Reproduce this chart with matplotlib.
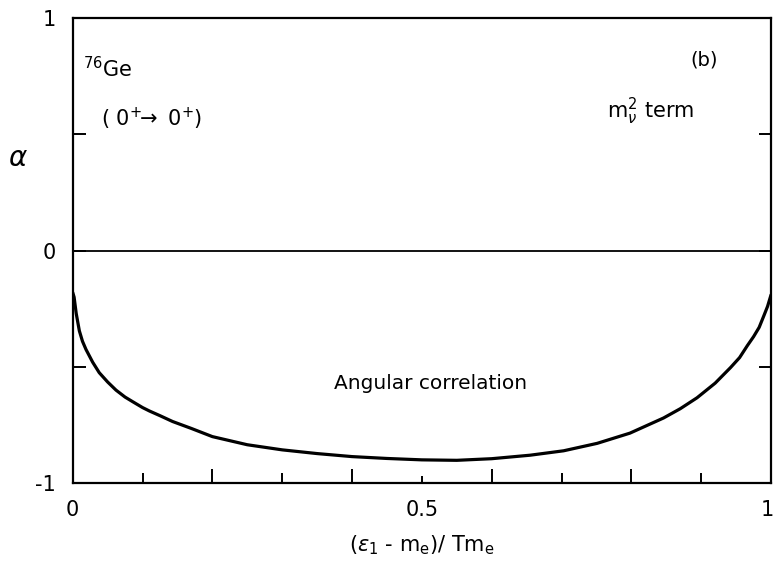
import matplotlib
matplotlib.use("Agg")
import matplotlib.pyplot as plt
import matplotlib.transforms as mtransforms
from matplotlib.ticker import FixedLocator

# Angular correlation coefficient alpha versus reduced electron energy
energy = [0.0, 0.002, 0.005, 0.0095, 0.014, 0.019, 0.0286, 0.038, 0.05,
          0.062, 0.075, 0.086, 0.1, 0.11, 0.125, 0.143, 0.17, 0.2, 0.25,
          0.3, 0.35, 0.4, 0.45, 0.5, 0.55, 0.6, 0.655, 0.703, 0.751, 0.798,
          0.846, 0.87, 0.894, 0.92, 0.942, 0.955, 0.966, 0.975, 0.983, 0.99,
          0.995, 1.0]
alpha = [-0.18, -0.20, -0.27, -0.345, -0.39, -0.425, -0.48, -0.525, -0.565,
         -0.60, -0.63, -0.65, -0.675, -0.69, -0.71, -0.735, -0.765, -0.80,
         -0.835, -0.857, -0.873, -0.886, -0.894, -0.90, -0.902, -0.895,
         -0.88, -0.861, -0.829, -0.785, -0.72, -0.68, -0.633, -0.57, -0.503,
         -0.46, -0.409, -0.37, -0.33, -0.278, -0.24, -0.19]

xtick_major = [0.0, 0.5, 1.0]
xtick_major_labels = ["0", "0.5", "1"]
xtick_short = [0.1, 0.3, 0.7, 0.9]
xtick_long = [0.2, 0.4, 0.6, 0.8]
ytick_values = [-1.0, -0.5, 0.0, 0.5, 1.0]
ytick_labels = ["-1", "", "0", "", "1"]

plt.rcParams["font.family"] = ["DejaVu Sans"]
plt.rcParams["mathtext.fontset"] = "dejavusans"

fig = plt.figure(figsize=(7.76, 5.87), dpi=100)
ax = fig.add_axes([0.0937, 0.177, 0.8999, 0.792])

ax.plot(energy, alpha, color="black", lw=2.3, solid_capstyle="round",
        solid_joinstyle="round")
ax.axhline(0.0, color="black", lw=1.3)

ax.set_xlim(0, 1)
ax.set_ylim(-1, 1)

for side in ax.spines.values():
    side.set_linewidth(1.6)

ax.set_xticks(xtick_major, xtick_major_labels)
ax.xaxis.set_minor_locator(FixedLocator(xtick_short))
ax.tick_params(axis="x", which="major", direction="in", length=5, width=1.4,
               labelsize=15, pad=12)
ax.tick_params(axis="x", which="minor", direction="in", length=7, width=1.4)

# keep the last tick label inside the canvas
last = ax.get_xticklabels()[-1]
last.set_transform(last.get_transform()
                   + mtransforms.ScaledTranslation(-4 / 100, 0, fig.dpi_scale_trans))

sec = ax.secondary_xaxis("bottom")
sec.set_xticks(xtick_long, ["" for _ in xtick_long])
sec.tick_params(direction="in", length=10, width=1.4)
sec.spines["bottom"].set_visible(False)

ax.set_yticks(ytick_values, ytick_labels)
ax.tick_params(axis="y", which="major", direction="in", length=9, width=1.4,
               labelsize=15, pad=12, left=True, right=True)

ax.set_xlabel(r"($\epsilon_{1}$ - m$_{\mathrm{e}}$)/ Tm$_{\mathrm{e}}$",
              fontsize=15, labelpad=10)
ax.set_ylabel(r"$\alpha$", fontsize=20, rotation=0, va="center")
ax.yaxis.set_label_coords(-0.078, 0.70)

ax.text(0.015, 0.865, r"$^{76}$Ge", transform=ax.transAxes, fontsize=15,
        va="bottom", ha="left")
ax.text(0.04, 0.755, r"( 0$^{+}\!\!\rightarrow$ 0$^{+}$)", transform=ax.transAxes,
        fontsize=15, va="bottom", ha="left")
ax.text(0.885, 0.89, "(b)", transform=ax.transAxes, fontsize=14,
        va="bottom", ha="left")
ax.text(0.765, 0.765, r"m$_{\nu}^{2}$ term", transform=ax.transAxes,
        fontsize=15, va="bottom", ha="left")
ax.text(0.512, 0.215, "Angular correlation", transform=ax.transAxes,
        fontsize=14.5, va="center", ha="center")

fig.savefig("out.png", dpi=100)
